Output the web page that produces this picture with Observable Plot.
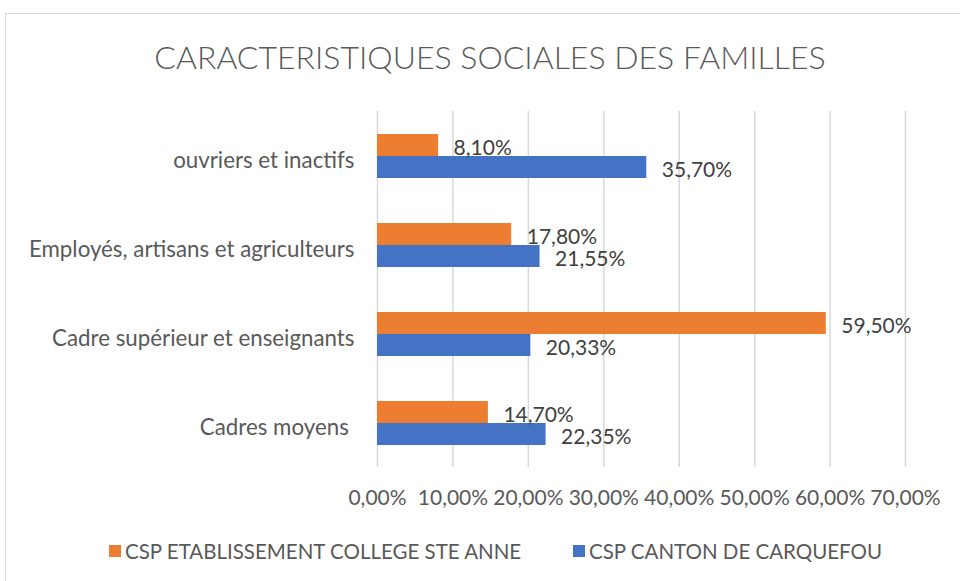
<!DOCTYPE html>
<html><head><meta charset="utf-8">
<script src="https://cdn.jsdelivr.net/npm/d3@7"></script>
<script src="https://cdn.jsdelivr.net/npm/@observablehq/plot@0.6"></script>
<style>
html,body{margin:0;padding:0;background:#fff;}
#wrap{position:relative;width:960px;height:581px;overflow:hidden;font-family:Lato,"Open Sans",sans-serif;}
#frame{position:absolute;left:5px;top:13px;width:970px;height:600px;border:1px solid #d9d9d9;box-sizing:border-box;}
#title{position:absolute;left:0;top:37px;width:980px;text-align:center;font-size:32px;line-height:40px;color:#595959;font-weight:300;}
#chart{position:absolute;left:0;top:100px;}
#legend{position:absolute;top:539px;left:0;width:960px;font-size:20.5px;line-height:24px;color:#595959;}
.li{position:absolute;display:flex;align-items:center;white-space:nowrap;}
.sw{width:12px;height:12px;margin-right:4px;}
</style></head>
<body><div id="wrap"><div id="frame"></div><div id="title">CARACTERISTIQUES SOCIALES DES FAMILLES</div><div id="chart"></div><div id="legend"></div></div>
<script>
const categories = ["ouvriers et inactifs", "Employés, artisans et agriculteurs", "Cadre supérieur et enseignants", "Cadres moyens "];
const seriesNames = ["CSP ETABLISSEMENT COLLEGE STE ANNE", "CSP CANTON DE CARQUEFOU"];
const colors = ["#ED7D31", "#4472C4"];
const steAnne = [8.10, 17.80, 59.50, 14.70];
const carquefou = [35.70, 21.55, 20.33, 22.35];
const xTicks = [0, 10, 20, 30, 40, 50, 60, 70];

const data = [];
categories.forEach((c, i) => {
  data.push({cat: c, series: seriesNames[0], value: steAnne[i]});
  data.push({cat: c, series: seriesNames[1], value: carquefou[i]});
});
const fmt = v => v.toFixed(2).replace(".", ",") + "%";

const chart = Plot.plot({
  width: 960, height: 420,
  marginLeft: 377, marginRight: 55, marginTop: 11, marginBottom: 53,
  style: {fontFamily: "Lato, 'Open Sans', sans-serif", fontSize: "20px", color: "#595959", background: "transparent", overflow: "visible"},
  x: {domain: [0, 70], ticks: xTicks},
  fy: {domain: categories, padding: 0, label: null},
  y: {domain: seriesNames, paddingInner: 0, paddingOuter: 0.935, axis: null},
  color: {domain: seriesNames, range: colors},
  marks: [
    Plot.gridX(xTicks, {stroke: "#d9d9d9", strokeOpacity: 1, strokeWidth: 1.5}),
    Plot.barX(data, {fy: "cat", y: "series", x: "value", fill: "series", inset: 0}),
    Plot.text(data, {fy: "cat", y: "series", x: "value", text: d => fmt(d.value), textAnchor: "start", dx: 15, dy: 3, fill: "#404040", fontSize: 21}),
    Plot.axisX(xTicks, {tickSize: 0, tickPadding: 23, tickFormat: fmt, fontSize: 21, fill: "#595959", label: null}),
    Plot.axisFy({anchor: "left", tickSize: 0, tickPadding: 23, fontSize: 22.3, fill: "#595959", label: null, dy: 5})
  ]
});
document.getElementById("chart").appendChild(chart);

const legend = document.getElementById("legend");
const lx = [109, 573];
seriesNames.forEach((s, i) => {
  const d = document.createElement("div");
  d.className = "li";
  d.style.left = lx[i] + "px";
  d.innerHTML = `<span class="sw" style="background:${colors[i]}"></span><span>${s}</span>`;
  legend.appendChild(d);
});
</script></body></html>
